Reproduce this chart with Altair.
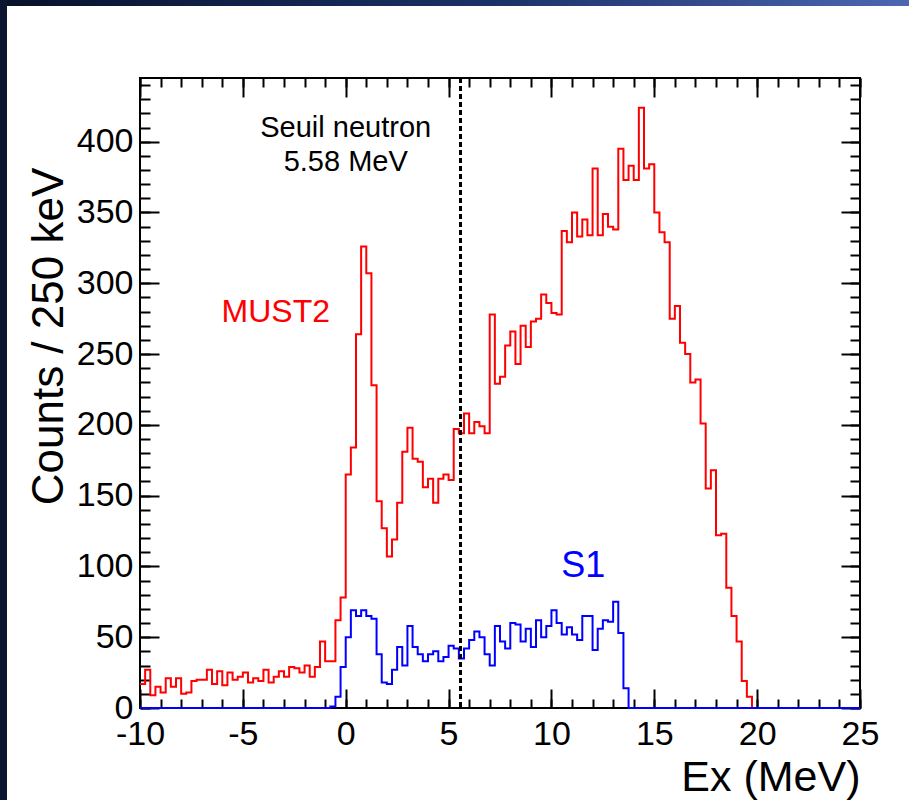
import altair as alt
import pandas as pd

FONT = "Liberation Sans"
BIN_WIDTH = 0.25
X_MIN, X_MAX = -10, 25
Y_MAX = 445

# MUST2 counts per 250 keV bin, bins starting at -10 MeV (last filled bin 19.5)
must2_counts = [
    17, 27, 9, 15, 11, 21, 15, 21, 10, 11, 19, 20, 20, 27, 17, 26, 16, 25, 20, 22,
    25, 18, 21, 19, 27, 18, 22, 26, 22, 29, 28, 25, 30, 22, 29, 47, 33, 33, 62, 78,
    165, 184, 264, 326, 307, 228, 146, 127, 107, 119, 145, 181, 198, 176, 174, 156, 162, 145, 162, 165,
    161, 197, 194, 208, 194, 202, 199, 194, 278, 229, 234, 256, 266, 243, 270, 255, 273, 275, 292, 286,
    279, 278, 337, 329, 350, 333, 345, 334, 381, 334, 349, 340, 338, 395, 373, 383, 373, 424, 381, 384,
    350, 336, 329, 275, 284, 258, 250, 230, 232, 201, 155, 168, 122, 123, 85, 65, 47, 19, 8, 0,
]

# S1 counts per 250 keV bin, first non-empty bin starts at -0.75 MeV
s1_first_bin = -0.75
s1_counts = [
    1, 8, 29, 50, 69, 65, 69, 65, 63, 38, 18, 17, 27, 43, 30, 58, 43, 38, 33, 38,
    40, 33, 36, 44, 42, 35, 42, 48, 54, 50, 38, 30, 58, 47, 42, 60, 59, 47, 56, 43,
    62, 50, 58, 69, 60, 52, 57, 52, 48, 65, 65, 41, 56, 62, 61, 75, 53, 14,
]

x_major = [-10, -5, 0, 5, 10, 15, 20, 25]
x_minor = list(range(-10, 26))
y_major = [0, 50, 100, 150, 200, 250, 300, 350, 400]
y_minor = list(range(0, 441, 10))

threshold = [5.58]

ann_text = ["Seuil neutron", "5.58 MeV", "MUST2", "S1"]
ann_x = [0.0, 0.0, -3.4, 11.55]
ann_y = [410, 386, 280, 100]
ann_color = ["black", "black", "#ff0000", "#0000ff"]
ann_size = [29, 29, 32, 36]

n_bins = int(round((X_MAX - X_MIN) / BIN_WIDTH))


def step_frame(first_edge, counts, name):
    start = int(round((first_edge - X_MIN) / BIN_WIDTH))
    full = [0] * n_bins
    for i, c in enumerate(counts):
        full[start + i] = c
    xs = [X_MIN + BIN_WIDTH * i for i in range(n_bins)] + [X_MAX]
    ys = full + [full[-1]]
    return pd.DataFrame({"x": xs, "y": ys, "series": name})


red_df = step_frame(X_MIN, must2_counts, "MUST2")
blue_df = step_frame(s1_first_bin, s1_counts, "S1")
ann_df = pd.DataFrame({"x": ann_x, "y": ann_y, "text": ann_text,
                       "color": ann_color, "size": ann_size})
thr_df = pd.DataFrame({"x": threshold})

W, H = 720, 630
xscale = alt.Scale(domain=[X_MIN, X_MAX], nice=False, zero=False)
yscale = alt.Scale(domain=[0, Y_MAX], nice=False)


def tick_axis(orient, offset, values, size):
    return alt.Axis(orient=orient, offset=offset, values=values, tickSize=size,
                    tickWidth=2, tickColor="black", labels=False, domain=False,
                    grid=False, title=None)


main_x = alt.Axis(orient="bottom", values=x_major, ticks=False, domain=False, grid=False,
                  labelFont=FONT, labelFontSize=34, labelColor="black", labelPadding=9,
                  labelFlush=False, labelOverlap=False, labelExpr="datum.value + ''",
                  title="Ex (MeV)", titleFont=FONT, titleFontSize=43, titleFontWeight="normal",
                  titleColor="black", titleAnchor="end", titleAlign="right",
                  titleX=W, titleY=82, titleBaseline="alphabetic")
main_y = alt.Axis(orient="left", values=y_major, ticks=False, domain=False, grid=False,
                  labelFont=FONT, labelFontSize=34, labelColor="black", labelPadding=7,
                  labelOverlap=False, labelExpr="datum.value + ''",
                  title="Counts / 250 keV", titleFont=FONT, titleFontSize=44,
                  titleFontWeight="normal", titleColor="black", titleAngle=270,
                  titleX=-78, titleY=258, titleAlign="center", titleBaseline="alphabetic")

red = alt.Chart(red_df).mark_line(interpolate="step-after", color="#ff0000", strokeWidth=2).encode(
    x=alt.X("x:Q", scale=xscale, axis=main_x),
    y=alt.Y("y:Q", scale=yscale, axis=main_y),
)
blue = alt.Chart(blue_df).mark_line(interpolate="step-after", color="#0000ff", strokeWidth=2).encode(
    x=alt.X("x:Q", scale=xscale, axis=tick_axis("top", -H, x_major, 19)),
    y=alt.Y("y:Q", scale=yscale, axis=tick_axis("right", -W, y_major, 19)),
)
t1 = alt.Chart(red_df).mark_point(opacity=0).encode(
    x=alt.X("x:Q", scale=xscale, axis=tick_axis("top", -H, x_minor, 9)),
    y=alt.Y("y:Q", scale=yscale, axis=tick_axis("right", -W, y_minor, 10)),
)
t2 = alt.Chart(red_df).mark_point(opacity=0).encode(
    x=alt.X("x:Q", scale=xscale, axis=tick_axis("bottom", -H, x_major, 19)),
    y=alt.Y("y:Q", scale=yscale, axis=tick_axis("left", -W, y_major, 19)),
)
t3 = alt.Chart(red_df).mark_point(opacity=0).encode(
    x=alt.X("x:Q", scale=xscale, axis=tick_axis("bottom", -H, x_minor, 9)),
    y=alt.Y("y:Q", scale=yscale, axis=tick_axis("left", -W, y_minor, 10)),
)

rule = alt.Chart(thr_df).mark_rule(color="black", strokeWidth=3, strokeDash=[5, 3]).encode(
    x=alt.X("x:Q", scale=xscale, axis=None),
)

texts = alt.Chart(ann_df).mark_text(font=FONT, baseline="middle", align="center").encode(
    x=alt.X("x:Q", scale=xscale, axis=None),
    y=alt.Y("y:Q", scale=yscale, axis=None),
    text="text:N",
    color=alt.Color("color:N", scale=None),
    size=alt.Size("size:Q", scale=None),
)

top_band = alt.Chart(thr_df).mark_rect(
    fill=alt.Gradient(gradient="linear", x1=0, x2=1, y1=0, y2=0,
                      stops=[alt.GradientStop(color="#07112a", offset=0),
                             alt.GradientStop(color="#1b3268", offset=0.55),
                             alt.GradientStop(color="#4d66b2", offset=1)])
).encode(x=alt.value(-140), x2=alt.value(769), y=alt.value(-78), y2=alt.value(-72))
left_band = alt.Chart(thr_df).mark_rect(color="#0a1530").encode(
    x=alt.value(-140), x2=alt.value(-133), y=alt.value(-78), y2=alt.value(722)
)

chart = alt.layer(top_band, left_band, t1, t2, t3, red, blue, rule, texts).resolve_axis(
    x="independent", y="independent"
).properties(
    width=W, height=H,
    autosize=alt.AutoSizeParams(type="none"),
    padding={"left": 140, "top": 78, "right": 49, "bottom": 92},
    background="white",
).configure_view(stroke="black", strokeWidth=2)

chart.save("out.html", embed_options={"renderer": "svg", "actions": False})
